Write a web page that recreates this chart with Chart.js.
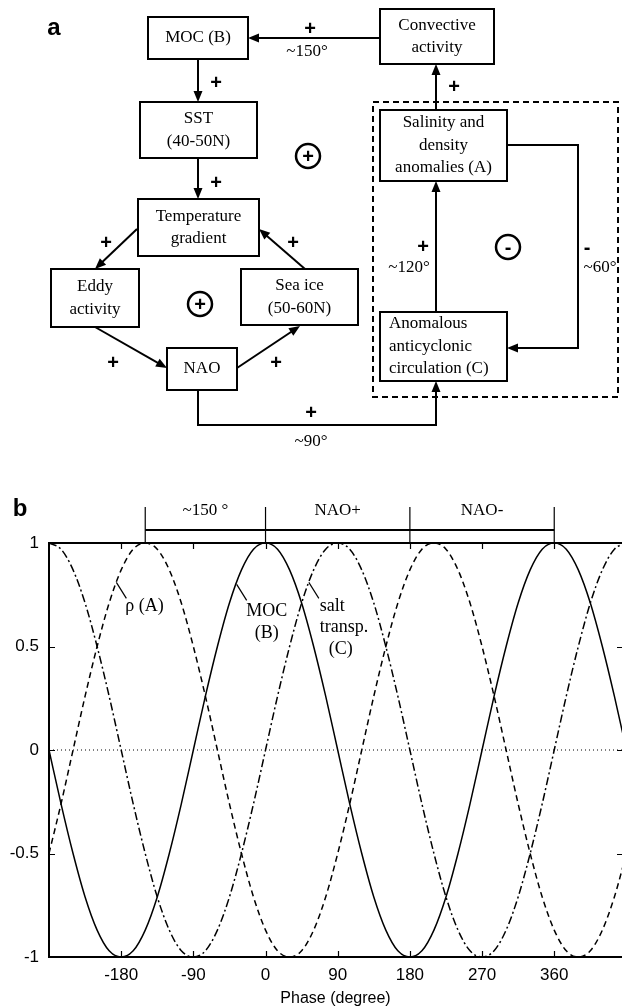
<!DOCTYPE html>
<html>
<head>
<meta charset="utf-8">
<script src="https://cdn.jsdelivr.net/npm/chart.js@4.4.0/dist/chart.umd.min.js"></script>
<style>
  html, body { margin: 0; padding: 0; background: #fff; overflow: hidden; }
  canvas { display: block; }
</style>
</head>
<body>
<canvas id="chart" width="622" height="1008"></canvas>
<script>
// phase (degree) and the three normalised curves
const phaseDeg = [-270,-255,-240,-225,-210,-195,-180,-165,-150,-135,-120,-105,-90,-75,-60,-45,-30,-15,
  0,15,30,45,60,75,90,105,120,135,150,165,180,195,210,225,240,255,270,285,300,315,330,345,
  360,375,390,405,420,435,450];
const mocB = [0,-0.26,-0.5,-0.71,-0.87,-0.97,-1,-0.97,-0.87,-0.71,-0.5,-0.26,0,0.26,0.5,0.71,0.87,0.97,
  1,0.97,0.87,0.71,0.5,0.26,0,-0.26,-0.5,-0.71,-0.87,-0.97,-1,-0.97,-0.87,-0.71,-0.5,-0.26,0,0.26,0.5,0.71,0.87,0.97,
  1,0.97,0.87,0.71,0.5,0.26,0];
const rhoA = [-0.5,-0.26,0,0.26,0.5,0.71,0.87,0.97,
  1,0.97,0.87,0.71,0.5,0.26,0,-0.26,-0.5,-0.71,-0.87,-0.97,-1,-0.97,-0.87,-0.71,-0.5,-0.26,0,0.26,0.5,0.71,0.87,0.97,
  1,0.97,0.87,0.71,0.5,0.26,0,-0.26,-0.5,-0.71,-0.87,-0.97,-1,-0.97,-0.87,-0.71,-0.5];
const saltC = [1,0.97,0.87,0.71,0.5,0.26,0,-0.26,-0.5,-0.71,-0.87,-0.97,-1,-0.97,-0.87,-0.71,-0.5,-0.26,0,0.26,0.5,0.71,0.87,0.97,
  1,0.97,0.87,0.71,0.5,0.26,0,-0.26,-0.5,-0.71,-0.87,-0.97,-1,-0.97,-0.87,-0.71,-0.5,-0.26,0,0.26,0.5,0.71,0.87,0.97,
  1];
const zeroLine = [0, 0];
const zeroPhase = [-270, 450];

const xTicks = [-180, -90, 0, 90, 180, 270, 360];
const yTicks = [-1, -0.5, 0, 0.5, 1];

// bracket over the plot: phases and the labels between them
const bracketPhases = [-150, 0, 180, 360];
const bracketLabels = ['~150 °', 'NAO+', 'NAO-'];

// curve labels, anchored on the curve (phase, value)
const curveNotes = [
  { phase: -186, value: 0.81, lines: ['ρ (A)'] },
  { phase: -36, value: 0.80, lines: ['MOC', '(B)'] },
  { phase: 54, value: 0.81, lines: ['salt', 'transp.', '(C)'] }
];

// panel a: boxes of the feedback diagram
const boxes = [
  { x: 148, y: 17, w: 100, h: 42, lines: ['MOC (B)'] },
  { x: 380, y: 9, w: 114, h: 55, lines: ['Convective', 'activity'] },
  { x: 140, y: 102, w: 117, h: 56, lines: ['SST', '(40-50N)'] },
  { x: 138, y: 199, w: 121, h: 57, lines: ['Temperature', 'gradient'] },
  { x: 51, y: 269, w: 88, h: 58, lines: ['Eddy', 'activity'] },
  { x: 241, y: 269, w: 117, h: 56, lines: ['Sea ice', '(50-60N)'] },
  { x: 167, y: 348, w: 70, h: 42, lines: ['NAO'] },
  { x: 380, y: 110, w: 127, h: 71, lines: ['Salinity and', 'density', 'anomalies (A)'] },
  { x: 380, y: 312, w: 127, h: 69, lines: ['Anomalous', 'anticyclonic', 'circulation (C)'], left: true }
];
const arrows = [
  [[380, 38], [248, 38]],
  [[198, 59], [198, 102]],
  [[198, 158], [198, 199]],
  [[137, 229], [95, 269]],
  [[305, 269], [259, 229]],
  [[95, 327], [167, 368]],
  [[237, 368], [300, 326]],
  [[198, 390], [198, 425], [436, 425], [436, 381]],
  [[436, 312], [436, 181]],
  [[436, 110], [436, 64]],
  [[507, 145], [578, 145], [578, 348], [507, 348]]
];
const signs = [
  ['+', 310, 29], ['+', 216, 83], ['+', 216, 183], ['+', 106, 243], ['+', 293, 243],
  ['+', 113, 363], ['+', 276, 363], ['+', 311, 413], ['+', 454, 87], ['+', 423, 247], ['-', 587, 248]
];
const degLabels = [['~150°', 307, 52], ['~90°', 311, 442], ['~120°', 409, 268], ['~60°', 600, 268]];
const loops = [['+', 308, 156], ['+', 200, 304], ['-', 508, 247]];

const SERIF = '"Liberation Serif", "Times New Roman", serif';
const SANS = '"Liberation Sans", Arial, sans-serif';

function drawArrow(ctx, pts) {
  const n = pts.length;
  const [x1, y1] = pts[n - 2], [x2, y2] = pts[n - 1];
  const a = Math.atan2(y2 - y1, x2 - x1);
  const L = 11, W = 4.5;
  ctx.beginPath();
  ctx.moveTo(pts[0][0], pts[0][1]);
  for (let i = 1; i < n - 1; i++) ctx.lineTo(pts[i][0], pts[i][1]);
  ctx.lineTo(x2 - (L - 2) * Math.cos(a), y2 - (L - 2) * Math.sin(a));
  ctx.stroke();
  ctx.beginPath();
  ctx.moveTo(x2, y2);
  ctx.lineTo(x2 - L * Math.cos(a) + W * Math.sin(a), y2 - L * Math.sin(a) - W * Math.cos(a));
  ctx.lineTo(x2 - L * Math.cos(a) - W * Math.sin(a), y2 - L * Math.sin(a) + W * Math.cos(a));
  ctx.closePath();
  ctx.fill();
}

const figurePlugin = {
  id: 'figure',
  afterDraw(chart) {
    const ctx = chart.ctx;
    const area = chart.chartArea;
    const xs = chart.scales.x, ys = chart.scales.y;
    ctx.save();
    ctx.strokeStyle = '#000';
    ctx.fillStyle = '#000';

    // ---- panel a ----
    ctx.font = 'bold 24px ' + SANS;
    ctx.textAlign = 'center';
    ctx.textBaseline = 'middle';
    ctx.fillText('a', 54, 28);

    ctx.lineWidth = 2;
    ctx.setLineDash([6, 4]);
    ctx.strokeRect(373, 102, 245, 295);
    ctx.setLineDash([]);

    boxes.forEach(b => {
      ctx.lineWidth = 2;
      ctx.strokeRect(b.x, b.y, b.w, b.h);
      ctx.font = '17px ' + SERIF;
      const lh = 22.5, cy = b.y + b.h / 2;
      b.lines.forEach((t, i) => {
        const y = cy + (i - (b.lines.length - 1) / 2) * lh;
        if (b.left) { ctx.textAlign = 'left'; ctx.fillText(t, b.x + 9, y); }
        else { ctx.textAlign = 'center'; ctx.fillText(t, b.x + b.w / 2, y); }
      });
    });

    ctx.lineWidth = 2;
    arrows.forEach(p => drawArrow(ctx, p));

    ctx.textAlign = 'center';
    ctx.font = 'bold 20px ' + SANS;
    signs.forEach(([s, x, y]) => ctx.fillText(s, x, y));
    ctx.font = '17px ' + SERIF;
    degLabels.forEach(([s, x, y]) => ctx.fillText(s, x, y));

    loops.forEach(([s, x, y]) => {
      ctx.lineWidth = 2.5;
      ctx.beginPath();
      ctx.arc(x, y, 12, 0, Math.PI * 2);
      ctx.stroke();
      ctx.font = 'bold 20px ' + SANS;
      ctx.fillText(s, x, y + 1);
    });

    // ---- panel b ----
    ctx.font = 'bold 24px ' + SANS;
    ctx.fillText('b', 20, 509);

    // frame (right side lies outside the picture)
    ctx.lineWidth = 2;
    ctx.beginPath();
    ctx.moveTo(area.right + 2, area.top);
    ctx.lineTo(area.left, area.top);
    ctx.lineTo(area.left, area.bottom);
    ctx.lineTo(area.right + 2, area.bottom);
    ctx.stroke();

    // inward ticks
    ctx.lineWidth = 1.2;
    ctx.beginPath();
    xTicks.forEach(v => {
      const x = Math.round(xs.getPixelForValue(v)) + 0.5;
      ctx.moveTo(x, area.bottom); ctx.lineTo(x, area.bottom - 6);
      ctx.moveTo(x, area.top); ctx.lineTo(x, area.top + 6);
    });
    yTicks.forEach(v => {
      const y = Math.round(ys.getPixelForValue(v)) + 0.5;
      ctx.moveTo(area.left, y); ctx.lineTo(area.left + 6, y);
      ctx.moveTo(area.right, y); ctx.lineTo(area.right - 5, y);
    });
    ctx.stroke();

    // bracket over the plot
    const by = 530;
    const bx = bracketPhases.map(p => xs.getPixelForValue(p));
    ctx.lineWidth = 2;
    ctx.beginPath();
    ctx.moveTo(bx[0], by); ctx.lineTo(bx[bx.length - 1], by);
    ctx.stroke();
    ctx.lineWidth = 1.2;
    ctx.beginPath();
    bx.forEach(x => { ctx.moveTo(x, 507); ctx.lineTo(x, area.top); });
    ctx.stroke();
    ctx.font = '17px ' + SERIF;
    ctx.textAlign = 'center';
    bracketLabels.forEach((t, i) => ctx.fillText(t, (bx[i] + bx[i + 1]) / 2, 511));

    // curve labels with leader lines
    ctx.font = '18px ' + SERIF;
    ctx.lineWidth = 1.2;
    curveNotes.forEach((n, k) => {
      const px = xs.getPixelForValue(n.phase), py = ys.getPixelForValue(n.value);
      ctx.beginPath();
      ctx.moveTo(px, py); ctx.lineTo(px + 10, py + 16);
      ctx.stroke();
      if (k === 0) {
        ctx.textAlign = 'left';
        ctx.fillText(n.lines[0], px + 9, py + 24);
      } else if (k === 1) {
        ctx.textAlign = 'center';
        ctx.fillText(n.lines[0], px + 30, py + 27);
        ctx.fillText(n.lines[1], px + 30, py + 49);
      } else {
        ctx.textAlign = 'left';
        ctx.fillText(n.lines[0], px + 11, py + 24);
        ctx.fillText(n.lines[1], px + 11, py + 45);
        ctx.textAlign = 'center';
        ctx.fillText(n.lines[2], px + 32, py + 67);
      }
    });
    ctx.restore();
  }
};

const toXY = vals => phaseDeg.map((p, i) => ({ x: p, y: vals[i] }));

Chart.defaults.font.family = SANS;
Chart.defaults.color = '#000';

new Chart(document.getElementById('chart'), {
  type: 'line',
  data: {
    datasets: [
      { label: 'zero', data: zeroPhase.map((p, i) => ({ x: p, y: zeroLine[i] })),
        borderColor: '#000', borderWidth: 1, borderDash: [1, 3], pointRadius: 0 },
      { label: 'MOC (B)', data: toXY(mocB), borderColor: '#000', borderWidth: 1.5,
        pointRadius: 0, cubicInterpolationMode: 'monotone' },
      { label: 'ρ (A)', data: toXY(rhoA), borderColor: '#000', borderWidth: 1.5, borderDash: [6, 4],
        pointRadius: 0, cubicInterpolationMode: 'monotone' },
      { label: 'salt transp. (C)', data: toXY(saltC), borderColor: '#000', borderWidth: 1.5,
        borderDash: [8, 3, 2, 3], pointRadius: 0, cubicInterpolationMode: 'monotone' }
    ]
  },
  options: {
    responsive: false,
    animation: false,
    devicePixelRatio: 1,
    layout: { padding: { top: 543, left: 0, right: 0, bottom: 0 } },
    plugins: { legend: { display: false }, tooltip: { enabled: false } },
    scales: {
      x: {
        type: 'linear',
        min: -270,
        max: 444.5,
        afterBuildTicks: s => { s.ticks = xTicks.map(v => ({ value: v })); },
        afterFit: s => { s.height = 51; },
        grid: { display: false, drawTicks: false },
        border: { display: false },
        ticks: { font: { size: 17 }, padding: 8, maxRotation: 0, callback: v => String(v) },
        title: { display: true, text: 'Phase (degree)', font: { size: 16 }, padding: { top: 0, bottom: 0 } }
      },
      y: {
        min: -1,
        max: 1,
        afterBuildTicks: s => { s.ticks = yTicks.map(v => ({ value: v })); },
        afterFit: s => { s.width = 49; },
        grid: { display: false, drawTicks: false },
        border: { display: false },
        ticks: { font: { size: 17 }, padding: 10, callback: v => String(v) }
      }
    }
  },
  plugins: [figurePlugin]
});
</script>
</body>
</html>
